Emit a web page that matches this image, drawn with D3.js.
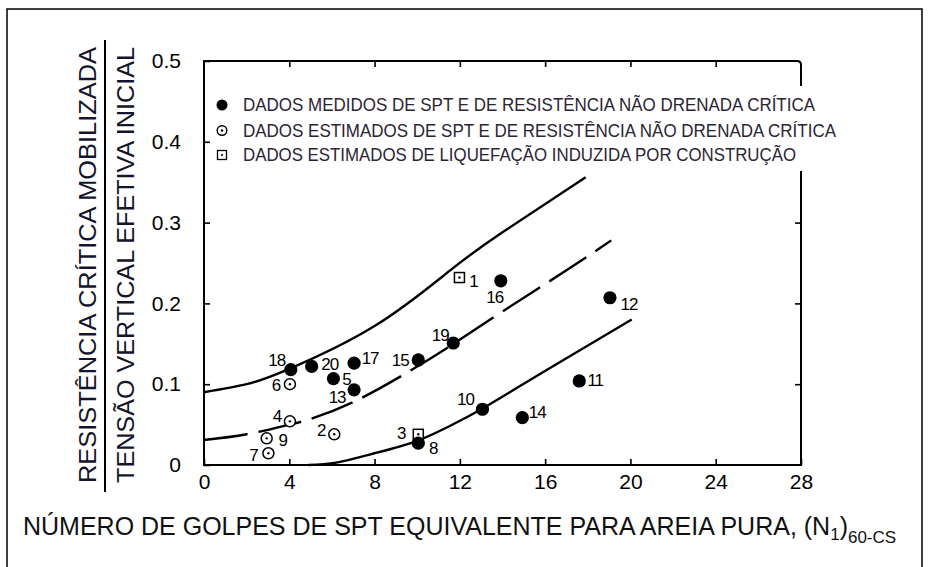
<!DOCTYPE html>
<html>
<head>
<meta charset="utf-8">
<script src="https://cdn.jsdelivr.net/npm/d3@7/dist/d3.min.js"></script>
<style>
  html, body { margin: 0; padding: 0; background: #fff; }
  svg { display: block; font-family: "Liberation Sans", Arial, sans-serif; }
</style>
</head>
<body>
<svg id="chart" width="929" height="567"></svg>
<script>
// ---------- data ----------
const xTicks = [0, 4, 8, 12, 16, 20, 24, 28];
const yTicks = [0, 0.1, 0.2, 0.3, 0.4, 0.5];
const yTickLabels = ["0", "0.1", "0.2", "0.3", "0.4", "0.5"];

const pointIds   = [1, 2, 3, 4, 5, 6, 7, 8, 9, 10, 11, 12, 13, 14, 15, 16, 17, 18, 19, 20];
const pointN     = [11.98, 6.11, 10.05, 4.03, 6.07, 4.03, 3.02, 10.05, 2.94, 13.06, 17.6, 19.04, 7.04, 14.93, 10.05, 13.92, 7.04, 4.07, 11.69, 5.05];
const pointRatio = [0.232, 0.038, 0.038, 0.054, 0.107, 0.100, 0.0145, 0.027, 0.033, 0.069, 0.104, 0.207, 0.093, 0.0586, 0.130, 0.228, 0.126, 0.118, 0.151, 0.122];
// type: "m" = measured (filled), "e" = estimated (open circle), "c" = construction-induced (square)
const pointType  = ["c", "e", "c", "e", "m", "e", "e", "m", "e", "m", "m", "m", "m", "m", "m", "m", "m", "m", "m", "m"];

const upperX = [0, 2, 4, 8, 11.5, 14, 17.9];
const upperY = [0.090, 0.100, 0.119, 0.172, 0.240, 0.288, 0.356];
const middleX = [0, 2, 4, 5, 7, 9.5, 11.7, 14, 17, 19.1];
const middleY = [0.031, 0.038, 0.050, 0.057, 0.078, 0.114, 0.150, 0.190, 0.241, 0.278];
const lowerX = [4.9, 6.2, 8, 10, 11.5, 13, 16.07, 20.06];
const lowerY = [0, 0.003, 0.0145, 0.030, 0.048, 0.069, 0.1176, 0.180];

const legendLabels = [
  "DADOS MEDIDOS DE SPT E DE RESISTÊNCIA NÃO DRENADA CRÍTICA",
  "DADOS ESTIMADOS DE SPT E DE RESISTÊNCIA NÃO DRENADA CRÍTICA",
  "DADOS ESTIMADOS DE LIQUEFAÇÃO INDUZIDA POR CONSTRUÇÃO"
];
const yTitleTop = "RESISTÊNCIA CRÍTICA MOBILIZADA";
const yTitleBottom = "TENSÃO VERTICAL EFETIVA INICIAL";
const xTitleMain = "NÚMERO DE GOLPES DE SPT EQUIVALENTE PARA AREIA PURA, (N";

// ---------- layout (label offsets in px) ----------
const labelOffset = {
  1: [14, 3], 2: [-13, -4], 3: [-17, -1], 4: [-13, -5], 5: [13, 0],
  6: [-14, 1], 7: [-15, 2], 8: [15, 5], 9: [16, 2], 10: [-17, -10],
  11: [16, -1], 12: [19, 6], 13: [-17, 7], 14: [15, -6], 15: [-18, 0],
  16: [-6, 16], 17: [16, -5], 18: [-14, -10], 19: [-13, -8], 20: [18, -3]
};

const svg = d3.select("#chart");
const L = 204, R = 801, T = 61, B = 465;
const x = d3.scaleLinear().domain([0, 28]).range([L, R]);
const y = d3.scaleLinear().domain([0, 0.5]).range([B, T]);

// outer border
svg.append("path")
  .attr("d", `M7,567 L7,9 L922,9 L922,567`)
  .attr("fill", "none").attr("stroke", "#000").attr("stroke-width", 1.5);

// curves
const line = d3.line().x(d => x(d[0])).y(d => y(d[1])).curve(d3.curveNatural);
const zip = (a, b) => a.map((v, i) => [v, b[i]]);
svg.append("path").datum(zip(upperX, upperY)).attr("d", line)
  .attr("fill", "none").attr("stroke", "#000").attr("stroke-width", 2.4);
svg.append("path").datum(zip(middleX, middleY)).attr("d", line)
  .attr("fill", "none").attr("stroke", "#000").attr("stroke-width", 2.4)
  .attr("stroke-dasharray", "44,11");
svg.append("path").datum(zip(lowerX, lowerY)).attr("d", line)
  .attr("fill", "none").attr("stroke", "#000").attr("stroke-width", 2.4);

// frame
svg.append("path")
  .attr("d", `M${L},${T} L${R - 4},${T} Q${R},${T} ${R},${T + 4} L${R},${B} L${L},${B} Z`)
  .attr("fill", "none").attr("stroke", "#000").attr("stroke-width", 2);

// axes
const fmtY = d => yTickLabels[yTicks.indexOf(d)];
const gx = svg.append("g").attr("transform", `translate(0,${B})`)
  .call(d3.axisBottom(x).tickValues(xTicks).tickSize(-6).tickPadding(9));
const gxt = svg.append("g").attr("transform", `translate(0,${T})`)
  .call(d3.axisTop(x).tickValues(xTicks.slice(1, -1)).tickSize(-6).tickFormat(""));
const gy = svg.append("g").attr("transform", `translate(${L},0)`)
  .call(d3.axisLeft(y).tickValues(yTicks).tickSize(-6).tickPadding(23).tickFormat(fmtY));
const gyr = svg.append("g").attr("transform", `translate(${R},0)`)
  .call(d3.axisRight(y).tickValues([0.1, 0.2, 0.3]).tickSize(-6).tickFormat(""));
[gx, gxt, gy, gyr].forEach(g => {
  g.select(".domain").remove();
  g.selectAll(".tick line").attr("stroke", "#000").attr("stroke-width", 1.6);
  g.selectAll("text").attr("font-size", 21).attr("fill", "#000")
    .attr("font-family", "'Liberation Sans', Arial, sans-serif");
});

// legend (white backing breaks the right frame)
svg.append("rect").attr("x", 212).attr("y", 86).attr("width", 636).attr("height", 85).attr("fill", "#fff");
const legY = [105, 130.5, 155];
const legLen = [572, 593, 553];
const lg = svg.append("g");
legendLabels.forEach((t, i) => {
  lg.append("text").attr("x", 243).attr("y", legY[i]).attr("dy", "0.35em")
    .attr("font-size", 18).attr("fill", "#2b2433")
    .attr("textLength", legLen[i]).attr("lengthAdjust", "spacingAndGlyphs")
    .text(t);
});
const mx = 222;
lg.append("circle").attr("cx", mx).attr("cy", legY[0]).attr("r", 5.5).attr("fill", "#000");
lg.append("circle").attr("cx", mx).attr("cy", legY[1]).attr("r", 4.8).attr("fill", "#fff").attr("stroke", "#000").attr("stroke-width", 1.4);
lg.append("circle").attr("cx", mx).attr("cy", legY[1]).attr("r", 1.2).attr("fill", "#000");
lg.append("rect").attr("x", mx - 4.5).attr("y", legY[2] - 4.5).attr("width", 9).attr("height", 9).attr("fill", "#fff").attr("stroke", "#000").attr("stroke-width", 1.3);
lg.append("circle").attr("cx", mx).attr("cy", legY[2]).attr("r", 1.1).attr("fill", "#000");

// points
const pts = pointIds.map((id, i) => ({ id, n: pointN[i], r: pointRatio[i], t: pointType[i] }));
const pg = svg.append("g");
pts.filter(d => d.t === "c").forEach(d => {
  pg.append("rect").attr("x", x(d.n) - 5).attr("y", y(d.r) - 5).attr("width", 10).attr("height", 10)
    .attr("fill", "#fff").attr("stroke", "#000").attr("stroke-width", 1.5);
  pg.append("circle").attr("cx", x(d.n)).attr("cy", y(d.r)).attr("r", 1.2).attr("fill", "#000");
});
pts.filter(d => d.t === "e").forEach(d => {
  pg.append("circle").attr("cx", x(d.n)).attr("cy", y(d.r)).attr("r", 5.5)
    .attr("fill", "#fff").attr("stroke", "#000").attr("stroke-width", 1.5);
  pg.append("circle").attr("cx", x(d.n)).attr("cy", y(d.r)).attr("r", 1.2).attr("fill", "#000");
});
pg.selectAll("circle.m").data(pts.filter(d => d.t === "m")).join("circle")
  .attr("class", "m").attr("cx", d => x(d.n)).attr("cy", d => y(d.r)).attr("r", 6.6).attr("fill", "#000");

pg.selectAll("text.lbl").data(pts).join("text")
  .attr("class", "lbl")
  .attr("x", d => x(d.n) + labelOffset[d.id][0])
  .attr("y", d => y(d.r) + labelOffset[d.id][1])
  .attr("text-anchor", "middle").attr("dy", "0.36em")
  .attr("font-size", 17).attr("letter-spacing", -1).attr("fill", "#000")
  .text(d => d.id);

// y title (fraction)
const yt = svg.append("g");
yt.append("text").attr("transform", "translate(87,265) rotate(-90)")
  .attr("text-anchor", "middle").attr("dy", "0.36em").attr("font-size", 24).attr("fill", "#14142a")
  .attr("textLength", 436).attr("lengthAdjust", "spacingAndGlyphs").text(yTitleTop);
yt.append("text").attr("transform", "translate(125,265) rotate(-90)")
  .attr("text-anchor", "middle").attr("dy", "0.36em").attr("font-size", 24).attr("fill", "#14142a")
  .attr("textLength", 436).attr("lengthAdjust", "spacingAndGlyphs").text(yTitleBottom);
yt.append("line").attr("x1", 105).attr("x2", 105).attr("y1", 40).attr("y2", 492)
  .attr("stroke", "#000").attr("stroke-width", 2);

// x title
const xt = svg.append("text").attr("x", 23).attr("y", 535).attr("font-size", 25).attr("fill", "#111");
xt.append("tspan").text(xTitleMain);
xt.append("tspan").attr("font-size", 17).attr("dy", 5).text("1");
xt.append("tspan").attr("dy", -5).text(")");
xt.append("tspan").attr("font-size", 17).attr("dy", 8).text("60-CS");
</script>
</body>
</html>
